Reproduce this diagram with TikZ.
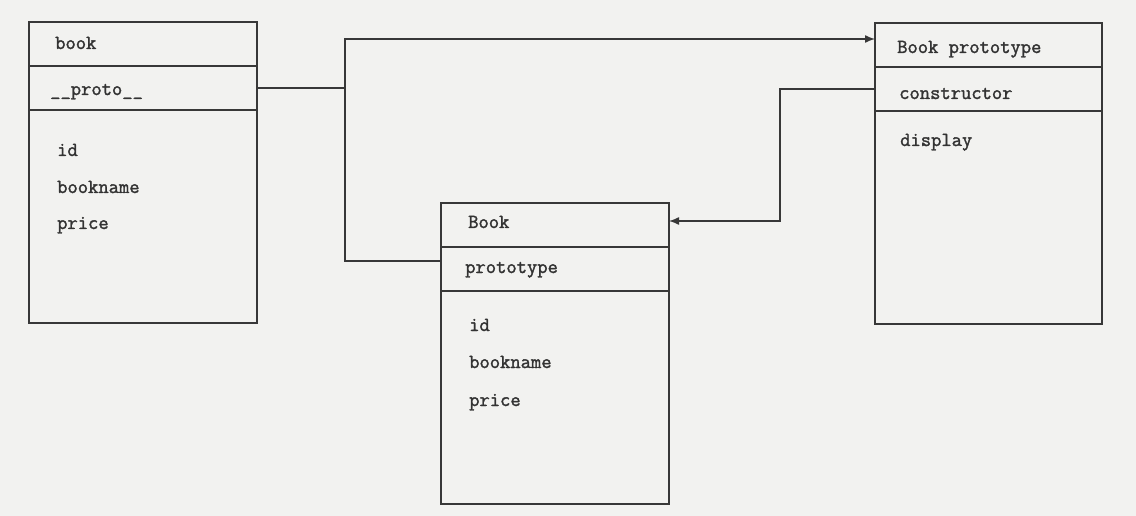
\documentclass[tikz,border=0pt]{standalone}
\usepackage{fontspec}
\setmonofont[FakeBold=1.6]{Latin Modern Mono}
\usetikzlibrary{arrows.meta}
\begin{document}
\begin{tikzpicture}[x=1pt,y=-1pt,
  part/.style={draw=linegray, line width=1.4pt, minimum width=228pt, anchor=north west, inner sep=0pt, outer sep=0pt},
  lbl/.style={anchor=base west, inner sep=0pt, font=\ttfamily\fontsize{20}{24}\selectfont, text=black!80},
  conn/.style={draw=linegray, line width=1.4pt},
  arr/.style={conn, -{Latex[length=10pt,width=8pt]}}]
\definecolor{linegray}{HTML}{383838}
\definecolor{paper}{HTML}{F2F2F0}
\fill[paper] (0,0) rectangle (1136,516);
\useasboundingbox (0,0) rectangle (1136,516);
% box: book
\node[part, minimum height=44pt] (b1title) at (29,22) {};
\node[part, minimum height=44pt] (b1proto) at (29,66) {};
\node[part, minimum height=213pt] (b1body) at (29,110) {};
\node[lbl] (t1a) at (55,49) {book};
\node[lbl] (t1b) at (50,95) {\_\_proto\_\_};
\node[lbl] (t1c) at (57,156) {id};
\node[lbl] (t1d) at (57,193) {bookname};
\node[lbl] (t1e) at (57,229) {price};
% box: Book
\node[part, minimum height=44pt] (b2title) at (441,203) {};
\node[part, minimum height=44pt] (b2proto) at (441,247) {};
\node[part, minimum height=213pt] (b2body) at (441,291) {};
\node[lbl] (t2a) at (468,228) {Book};
\node[lbl] (t2b) at (465,273) {prototype};
\node[lbl] (t2c) at (469,331) {id};
\node[lbl] (t2d) at (469,368) {bookname};
\node[lbl] (t2e) at (469,406) {price};
% box: Book prototype
\node[part, minimum width=227pt, minimum height=44pt] (b3title) at (875,23) {};
\node[part, minimum width=227pt, minimum height=44pt] (b3ctor) at (875,67) {};
\node[part, minimum width=227pt, minimum height=213pt] (b3body) at (875,111) {};
\node[lbl] (t3a) at (897,53) {Book prototype};
\node[lbl] (t3b) at (899,99) {constructor};
\node[lbl] (t3c) at (900,146) {display};
% connectors
\coordinate (j) at (345,88);
\draw[conn] (b1proto.east) -- (j);
\draw[arr] ([yshift=8pt]b2proto.west) -| (j) |- ([yshift=6pt]b3title.west);
\draw[arr] (b3ctor.west) -- ++(-95,0) |- ([yshift=4pt]b2title.east);
\end{tikzpicture}
\end{document}
